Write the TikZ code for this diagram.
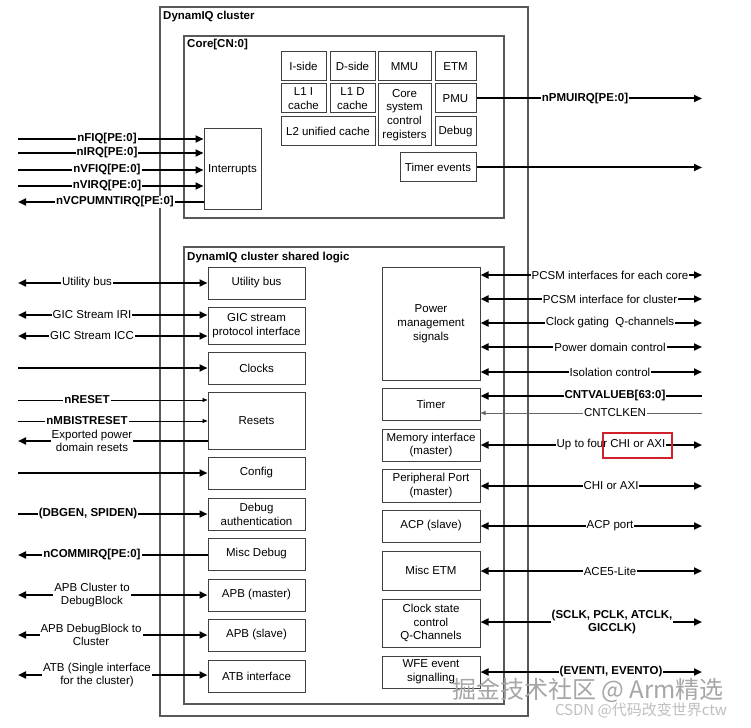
\documentclass[tikz,border=0pt]{standalone}
\usepackage{fontspec}
\setmainfont{Liberation Sans}
\newfontfamily\cjk{Noto Sans CJK SC}
\usetikzlibrary{arrows.meta}
\newcommand\bx[6]{\node[box, minimum width={(#4-#2)*1pt}, minimum height={(#5-#3)*1pt}] (#1) at ({(#2+#4)/2},{(#3+#5)/2}) {#6};}
\newcommand\fr[5]{\node[framebox, minimum width={(#4-#2)*1pt}, minimum height={(#5-#3)*1pt}] (#1) at ({(#2+#4)/2},{(#3+#5)/2}) {};}
\begin{document}
\begin{tikzpicture}[x=1pt,y=-1pt,
  box/.style={draw=black!75, line width=1pt, inner sep=1pt, align=center, font=\fontsize{11.5}{13.8}\selectfont},
  framebox/.style={draw=black!65, line width=1.3pt, inner sep=0pt},
  ttl/.style={font=\fontsize{11.5}{13}\selectfont\bfseries, anchor=west, inner sep=0pt},
  sig/.style={line width=2pt, -{Triangle[length=8pt,width=7pt]}},
  bsig/.style={line width=2pt, {Triangle[length=8pt,width=7pt]}-{Triangle[length=8pt,width=7pt]}},
  lsig/.style={line width=2pt, {Triangle[length=8pt,width=7pt]}-},
  thinsig/.style={line width=0.9pt, -{Triangle[length=5pt,width=4pt]}},
  thinlsig/.style={line width=0.9pt, draw=black!60, {Triangle[length=5pt,width=4pt]}-},
  lbl/.style={fill=white, inner sep=1pt, font=\fontsize{11.5}{12.8}\selectfont, align=center},
  blbl/.style={lbl, font=\fontsize{11.5}{12.8}\selectfont\bfseries},
]
\useasboundingbox (0,0) rectangle (751,727);
\fill[white] (0,0) rectangle (751,727);

% frames
\fr{cluster}{160}{7}{528}{716}
\fr{core}{184}{36}{504}{218}
\fr{shared}{184}{247}{504}{704}
\node[ttl] (tcl) at (163,17) {DynamIQ cluster};
\node[ttl] (tco) at (187,45) {Core[CN:0]};
\node[ttl] (tsh) at (187,258) {DynamIQ cluster shared logic};

% core boxes
\bx{iside}{281}{52}{326}{81}{I-side}
\bx{dside}{330}{52}{375}{81}{D-side}
\bx{mmu}{378}{52}{431}{81}{MMU}
\bx{etm}{435}{52}{476}{81}{ETM}
\bx{lonei}{281}{84}{326}{113}{L1 I\\cache}
\bx{loned}{330}{84}{375}{113}{L1 D\\cache}
\bx{csr}{378}{84}{431}{146}{Core\\system\\control\\registers}
\bx{pmu}{435}{84}{476}{113}{PMU}
\bx{ltwo}{281}{117}{375}{146}{L2 unified cache}
\bx{dbg}{435}{117}{476}{146}{Debug}
\bx{tev}{400}{153}{476}{182}{Timer events}
\bx{ints}{204}{129}{261}{210}{Interrupts}

% shared left boxes
\bx{ubus}{208}{267}{305}{299}{Utility bus}
\bx{gic}{208}{307}{305}{344}{GIC stream\\protocol interface}
\bx{clk}{208}{352}{305}{384}{Clocks}
\bx{rst}{208}{392}{305}{449}{Resets}
\bx{cfg}{208}{457}{305}{489}{Config}
\bx{dauth}{208}{498}{305}{530}{Debug\\authentication}
\bx{mdbg}{208}{538}{305}{570}{Misc Debug}
\bx{apbm}{208}{579}{305}{611}{APB (master)}
\bx{apbs}{208}{619}{305}{651}{APB (slave)}
\bx{atb}{208}{660}{305}{692}{ATB interface}

% shared right boxes
\bx{pm}{382}{267}{480}{380}{Power\\management\\signals}
\bx{tmr}{382}{388}{480}{420}{Timer}
\bx{mem}{382}{429}{480}{461}{Memory interface\\(master)}
\bx{pp}{382}{469}{480}{502}{Peripheral Port\\(master)}
\bx{acp}{382}{510}{480}{542}{ACP (slave)}
\bx{metm}{382}{551}{480}{590}{Misc ETM}
\bx{csq}{382}{599}{480}{647}{Clock state\\control\\Q-Channels}
\bx{wfe}{382}{656}{480}{688}{WFE event\\signalling}

% interrupt signals
\coordinate (a1) at (18,139);
\coordinate (a2) at (18,153);
\coordinate (a3) at (18,170);
\coordinate (a4) at (18,186);
\coordinate (a5) at (18,202);
\draw[sig] (a1) -- (a1 -| ints.west);
\draw[sig] (a2) -- (a2 -| ints.west);
\draw[sig] (a3) -- (a3 -| ints.west);
\draw[sig] (a4) -- (a4 -| ints.west);
\draw[lsig] (a5) -- (a5 -| ints.west);
\node[blbl] at (107,139) {nFIQ[PE:0]};
\node[blbl] at (107,153) {nIRQ[PE:0]};
\node[blbl] at (107,170) {nVFIQ[PE:0]};
\node[blbl] at (107,186) {nVIRQ[PE:0]};
\node[blbl] at (115,202) {nVCPUMNTIRQ[PE:0]};

% core right signals
\coordinate (pmuR) at (702,98.5);
\coordinate (tevR) at (702,167.5);
\draw[sig] (pmu.east) -- (pmuR);
\draw[sig] (tev.east) -- (tevR);
\node[blbl] at (585,98.5) {nPMUIRQ[PE:0]};

% shared left signals
\coordinate (b1) at (18,283);
\coordinate (b2) at (18,315);
\coordinate (b3) at (18,336);
\coordinate (b4) at (18,368);
\coordinate (b5) at (18,400);
\coordinate (b6) at (18,421);
\coordinate (b7) at (18,441);
\coordinate (b8) at (18,473);
\coordinate (b9) at (18,514);
\coordinate (b10) at (18,555);
\coordinate (b11) at (18,595);
\coordinate (b12) at (18,635);
\coordinate (b13) at (18,675);
\draw[bsig] (b1) -- (b1 -| ubus.west);
\draw[bsig] (b2) -- (b2 -| gic.west);
\draw[bsig] (b3) -- (b3 -| gic.west);
\draw[sig] (b4) -- (b4 -| clk.west);
\draw[thinsig] (b5) -- (b5 -| rst.west);
\draw[thinsig] (b6) -- (b6 -| rst.west);
\draw[lsig] (b7) -- (b7 -| rst.west);
\draw[sig] (b8) -- (b8 -| cfg.west);
\draw[sig] (b9) -- (b9 -| dauth.west);
\draw[lsig] (b10) -- (b10 -| mdbg.west);
\draw[bsig] (b11) -- (b11 -| apbm.west);
\draw[bsig] (b12) -- (b12 -| apbs.west);
\draw[bsig] (b13) -- (b13 -| atb.west);
\node[lbl] at (87,283) {Utility bus};
\node[lbl] at (92,315) {GIC Stream IRI};
\node[lbl] at (92,336) {GIC Stream ICC};
\node[blbl] at (87,400) {nRESET};
\node[blbl] at (87,421) {nMBISTRESET};
\node[lbl] at (92,441) {Exported power\\domain resets};
\node[blbl] at (88,514) {(DBGEN, SPIDEN)};
\node[blbl] at (92,555) {nCOMMIRQ[PE:0]};
\node[lbl] at (92,595) {APB Cluster to\\DebugBlock};
\node[lbl] at (91,635) {APB DebugBlock to\\Cluster};
\node[lbl] at (97,675) {ATB (Single interface\\for the cluster)};

% shared right signals
\coordinate (c1) at (702,275);
\coordinate (c2) at (702,299);
\coordinate (c3) at (702,323);
\coordinate (c4) at (702,347);
\coordinate (c5) at (702,372);
\coordinate (c6) at (702,396);
\coordinate (c7) at (702,413);
\coordinate (c8) at (702,445);
\coordinate (c9) at (702,486);
\coordinate (c10) at (702,526);
\coordinate (c11) at (702,571);
\coordinate (c12) at (702,622);
\coordinate (c13) at (702,672);
\draw[bsig] (pm.east |- c1) -- (c1);
\draw[bsig] (pm.east |- c2) -- (c2);
\draw[bsig] (pm.east |- c3) -- (c3);
\draw[bsig] (pm.east |- c4) -- (c4);
\draw[bsig] (pm.east |- c5) -- (c5);
\draw[lsig] (tmr.east |- c6) -- (c6);
\draw[thinlsig] (tmr.east |- c7) -- (c7);
\draw[bsig] (mem.east |- c8) -- (c8);
\draw[bsig] (pp.east |- c9) -- (c9);
\draw[bsig] (acp.east |- c10) -- (c10);
\draw[bsig] (metm.east |- c11) -- (c11);
\draw[bsig] (csq.east |- c12) -- (c12);
\draw[bsig] (wfe.east |- c13) -- (c13);
\node[lbl] at (610,275) {PCSM interfaces for each core};
\node[lbl] at (610,299) {PCSM interface for cluster};
\node[lbl] at (610,323) {Clock gating\ \ Q-channels};
\node[lbl] at (610,347) {Power domain control};
\node[lbl] at (610,372) {Isolation control};
\node[blbl] at (615,396) {CNTVALUEB[63:0]};
\node[lbl] at (615,413) {CNTCLKEN};
\node[lbl] at (611,445) {Up to four CHI or AXI};
\node[lbl] at (611,486) {CHI or AXI};
\node[lbl] at (610,526) {ACP port};
\node[lbl] at (610,571) {ACE5-Lite};
\node[blbl] at (612,622) {(SCLK, PCLK, ATCLK,\\GICCLK)};
\node[blbl] at (611,672) {(EVENTI, EVENTO)};

% highlight
\draw[draw={rgb,255:red,208;green,32;blue,42}, line width=2pt] (603,433) rectangle (672,458);

% watermark
\node[font=\cjk\fontsize{24}{24}\selectfont, text=black!35, inner sep=0pt] (wm1) at (588,690) {掘金技术社区 @ Arm精选};
\node[font=\cjk\fontsize{15}{15}\selectfont, text=black!25, inner sep=0pt] (wm2) at (641,710) {CSDN @代码改变世界ctw};
\end{tikzpicture}
\end{document}
